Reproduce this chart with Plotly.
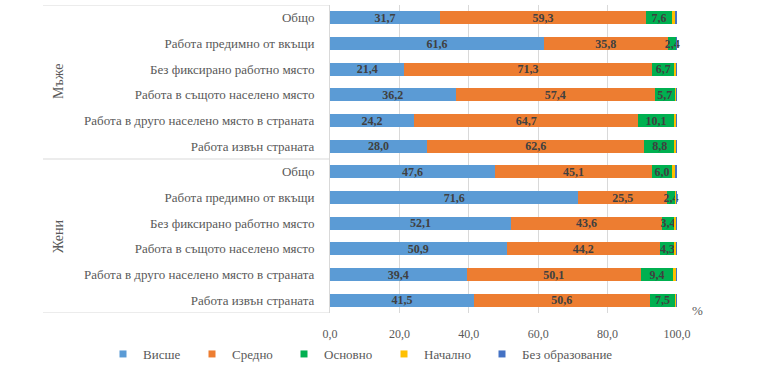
import plotly.graph_objects as go

categories = [
    "Общо",
    "Работа предимно от вкъщи",
    "Без фиксирано работно място",
    "Работа в същото населено място",
    "Работа в друго населено място в страната",
    "Работа извън страната",
]
groups = ["Мъже", "Жени"]

# values per group (Мъже then Жени), same order as categories
vishe = [31.7, 61.6, 21.4, 36.2, 24.2, 28.0,
         47.6, 71.6, 52.1, 50.9, 39.4, 41.5]
sredno = [59.3, 35.8, 71.3, 57.4, 64.7, 62.6,
          45.1, 25.5, 43.6, 44.2, 50.1, 50.6]
osnovno = [7.6, 2.4, 6.7, 5.7, 10.1, 8.8,
           6.0, 2.4, 3.4, 4.3, 9.4, 7.5]
nachalno = [0.8, 0.1, 0.5, 0.6, 0.8, 0.4,
            0.7, 0.3, 0.7, 0.4, 0.9, 0.3]
bez = [0.6, 0.1, 0.1, 0.1, 0.2, 0.2,
       0.6, 0.2, 0.2, 0.2, 0.2, 0.1]

series_names = ["Висше", "Средно", "Основно", "Начално", "Без образование"]
series_values = [vishe, sredno, osnovno, nachalno, bez]
series_colors = ["#5B9BD5", "#ED7D31", "#00B050", "#FFC000", "#4472C4"]
series_labels = [True, True, True, False, False]

x_ticks = [0, 20, 40, 60, 80, 100]

n_cat = len(categories)
ypos = list(range(n_cat * len(groups)))
yticktext = categories * len(groups)

serif = "Liberation Serif"
PLOT_L, PLOT_W = 330, 347
PLOT_T, PLOT_H = 5, 308

# legend text start positions (px) for each entry
legend_text_px = [139, 228, 320, 420, 518]

fig = go.Figure()
for i, (name, vals, col, lab) in enumerate(zip(series_names, series_values, series_colors, series_labels)):
    fig.add_trace(go.Bar(
        name=name, x=vals, y=ypos, orientation="h",
        marker=dict(color=col, line=dict(width=0)),
        texttemplate="%{x:.1f}" if lab else None,
        textposition="inside" if lab else "none",
        insidetextanchor="middle",
        textangle=0,
        cliponaxis=False,
        textfont=dict(family=serif, size=12, color="#404040", weight="bold"),
        hoverinfo="x+name",
        showlegend=False,
    ))
    lg = "legend" if i == 0 else "legend%d" % (i + 1)
    # legend proxy with a small square symbol
    fig.add_trace(go.Scatter(
        name=name, x=[None], y=[None], mode="markers",
        marker=dict(symbol="square", size=7, color=col),
        legend=lg, showlegend=True, hoverinfo="skip",
    ))
    fig.update_layout({lg: dict(
        orientation="h",
        x=(legend_text_px[i] - 36 - PLOT_L) / PLOT_W, xanchor="left",
        y=(PLOT_T + PLOT_H - 354) / PLOT_H, yanchor="middle",
        font=dict(family=serif, size=13, color="#595959"),
        itemwidth=30, bgcolor="rgba(0,0,0,0)",
    )})

fig.update_layout(
    barmode="stack",
    bargap=0.5,
    width=768, height=373,
    margin=dict(l=PLOT_L, r=768 - PLOT_L - PLOT_W, t=PLOT_T, b=373 - PLOT_T - PLOT_H, autoexpand=False),
    plot_bgcolor="white", paper_bgcolor="white",
    separators=", ",
    uniformtext=dict(minsize=12, mode="show"),
    font=dict(family=serif, size=12, color="#595959"),
    showlegend=True,
)

fig.update_xaxes(
    range=[0, 100], tickvals=x_ticks, tickformat=".1f",
    showgrid=True, gridcolor="#D9D9D9", gridwidth=1,
    zeroline=False, showline=False,
    ticklabelstandoff=12,
    automargin=False,
    tickfont=dict(family=serif, size=12, color="#595959"),
    fixedrange=True,
)
fig.update_yaxes(
    range=[len(ypos) - 0.5, -0.5],
    tickvals=ypos, ticktext=yticktext,
    showgrid=False, zeroline=False,
    showline=True, linecolor="#D9D9D9", linewidth=1,
    ticklabelstandoff=12,
    automargin=False,
    tickfont=dict(family=serif, size=13, color="#595959"),
    fixedrange=True,
)

# group separators (multi-level category axis look)
left_paper = (43 - PLOT_L) / PLOT_W
for yb in [-0.5, n_cat - 0.5, len(ypos) - 0.5]:
    fig.add_shape(type="line", xref="paper", yref="y",
                  x0=left_paper, x1=0, y0=yb, y1=yb,
                  line=dict(color="#D9D9D9", width=1))

for gi, g in enumerate(groups):
    fig.add_annotation(
        text=g, xref="paper", yref="y",
        x=(58 - PLOT_L) / PLOT_W, y=gi * n_cat + (n_cat - 1) / 2.0,
        textangle=-90, showarrow=False,
        font=dict(family=serif, size=14, color="#595959"),
        xanchor="center", yanchor="middle",
    )

fig.add_annotation(
    text="%", xref="paper", yref="paper",
    x=(697 - PLOT_L) / PLOT_W, y=(PLOT_T + PLOT_H - 310) / PLOT_H,
    showarrow=False, xanchor="center", yanchor="middle",
    font=dict(family=serif, size=13, color="#595959"),
)

fig.write_html("out.html", config={"displayModeBar": False},
               post_script="document.body.style.margin='0';")
